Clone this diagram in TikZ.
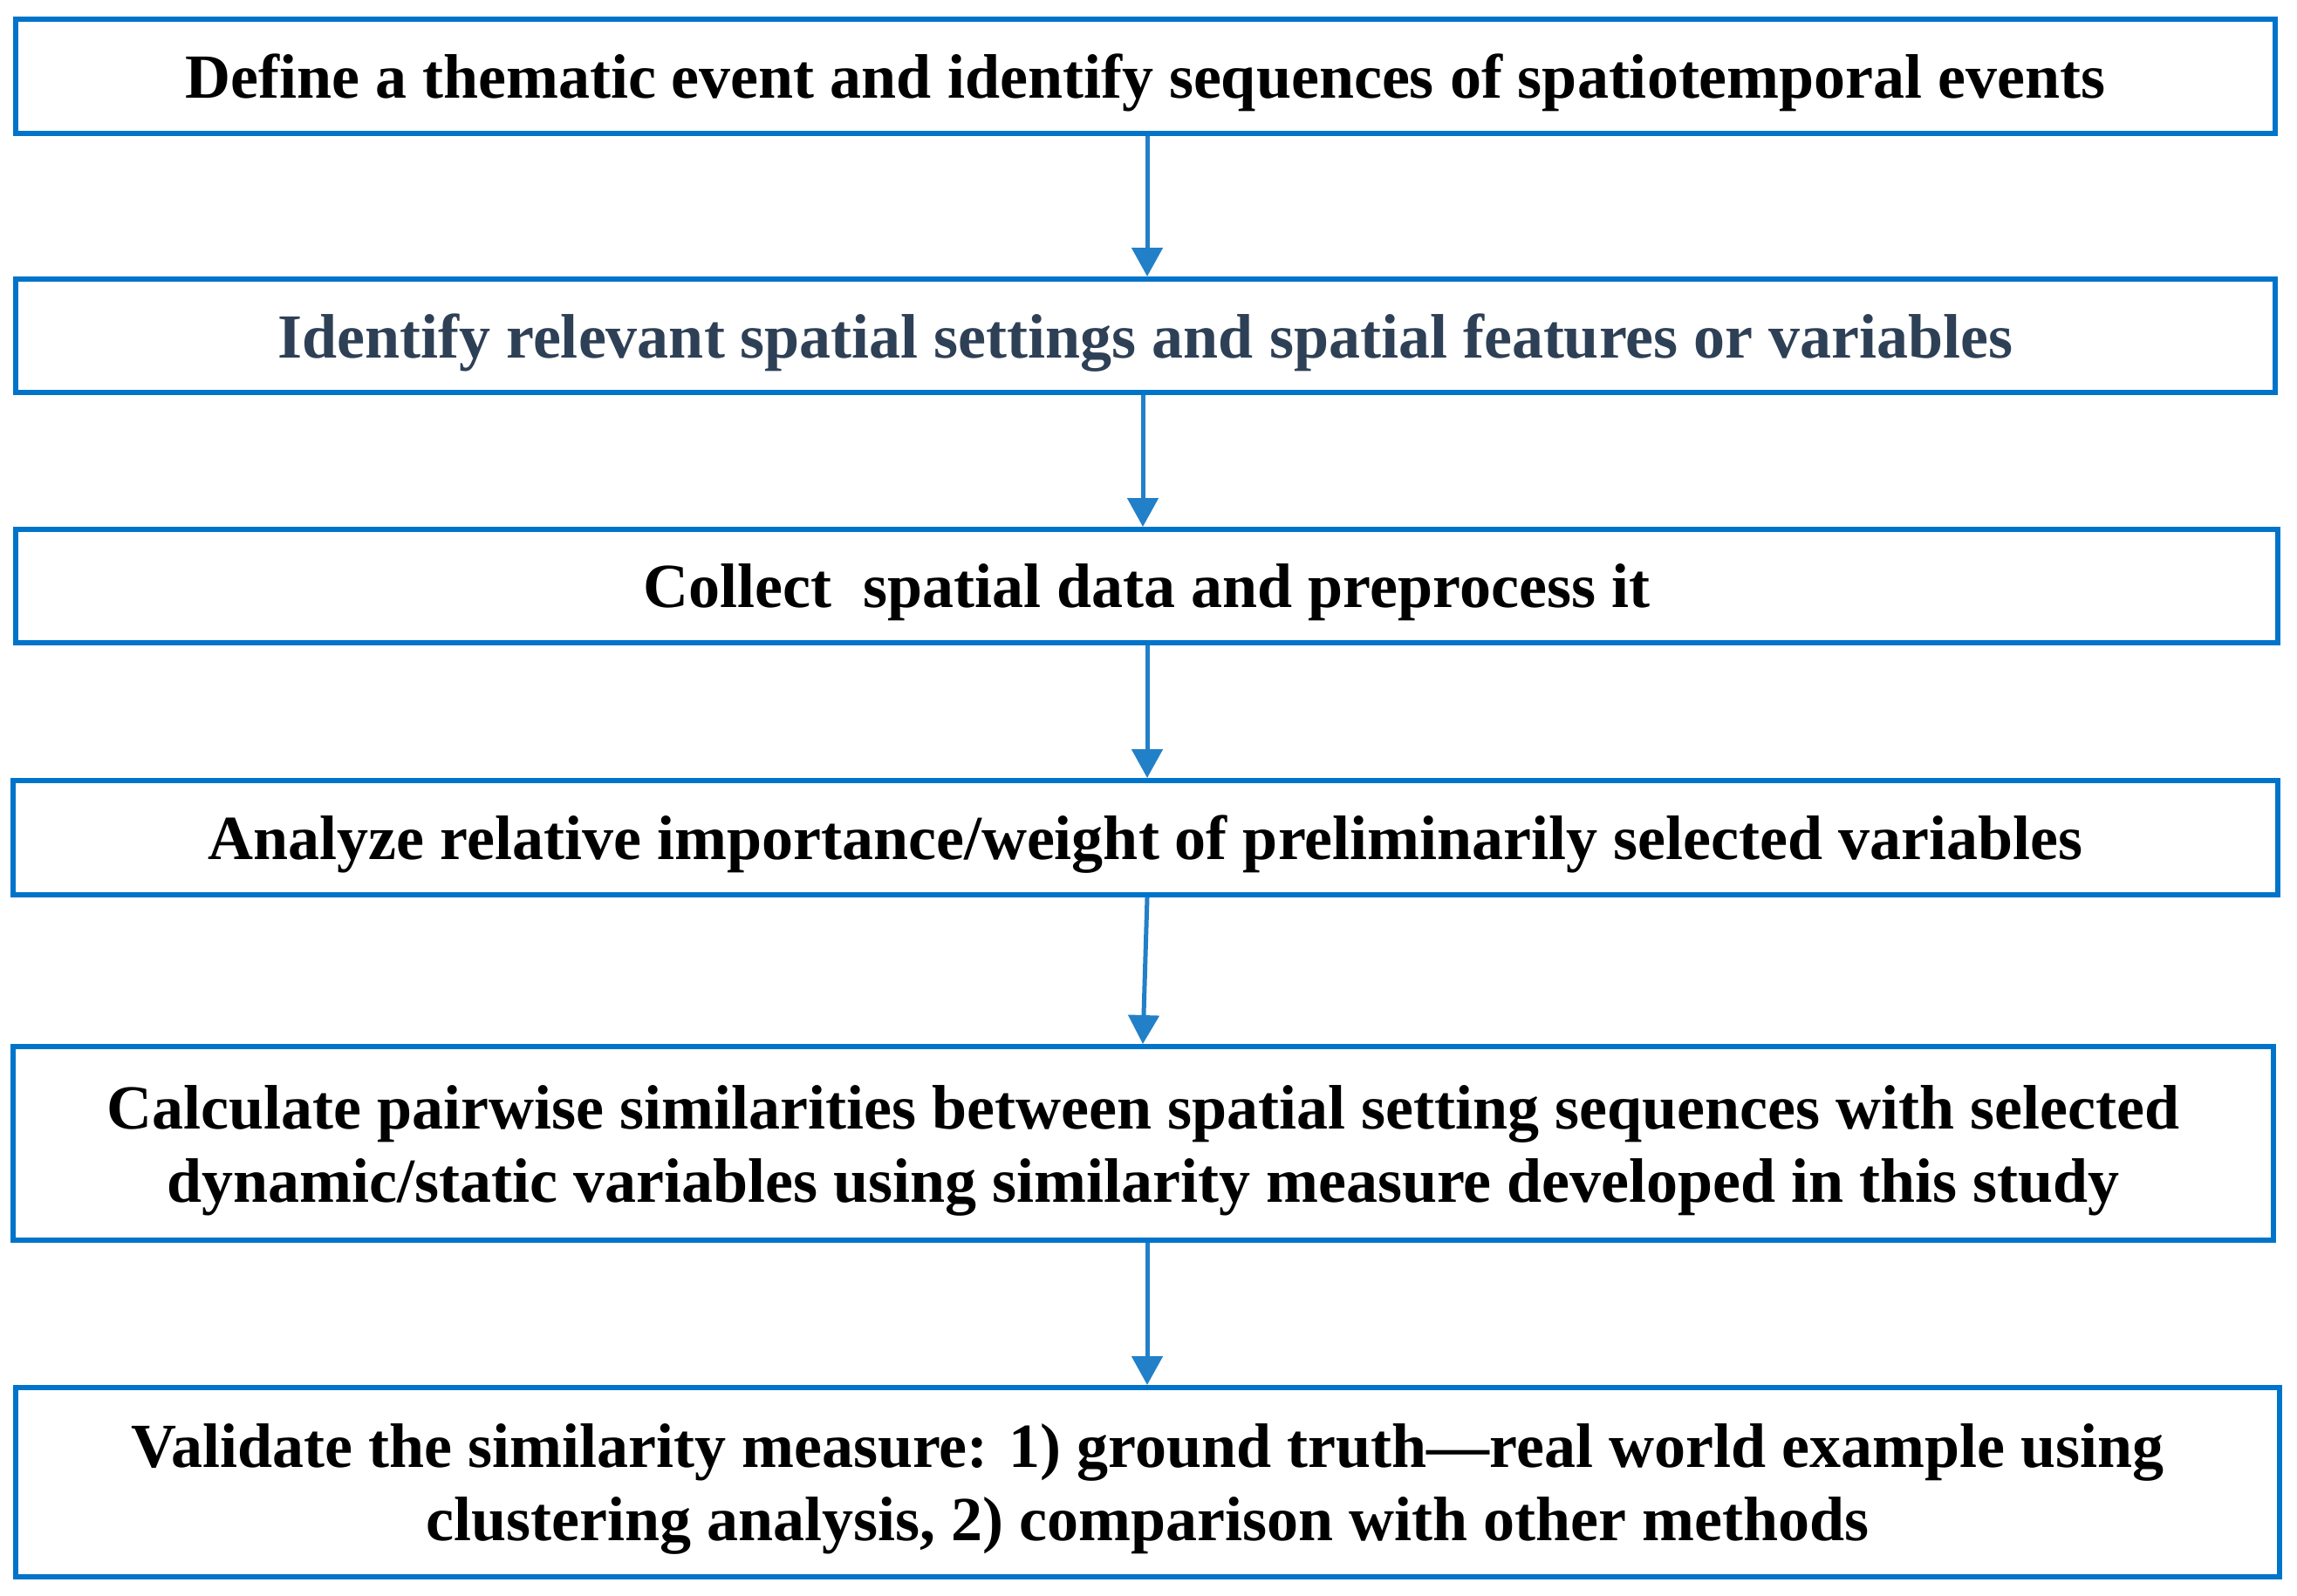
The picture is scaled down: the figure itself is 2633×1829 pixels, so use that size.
\documentclass[tikz,border=0pt]{standalone}
\usepackage{fontspec}
\setmainfont{Liberation Serif}
\usetikzlibrary{arrows.meta}
\definecolor{boxblue}{RGB}{0,116,202}
\definecolor{arrblue}{RGB}{34,128,200}
\definecolor{slatetext}{RGB}{46,64,86}
\begin{document}
\begin{tikzpicture}[x=1pt,y=-1pt,
  stepbox/.style={draw=boxblue,line width=6pt,rectangle,inner sep=0pt,align=center,
    text depth=0pt,font=\fontsize{72}{84}\selectfont\bfseries},
  arr/.style={draw=arrblue,line width=5pt,-{Triangle[width=35pt,length=33pt]}}]
\useasboundingbox (0,0) rectangle (2633,1829);
\node[stepbox,minimum width=2590pt,minimum height=131pt] (b1) at (1313,87.5)
  {Define a thematic event and identify sequences of spatiotemporal events};
\node[stepbox,minimum width=2590pt,minimum height=130pt,text=slatetext] (b2) at (1313,385)
  {Identify relevant spatial settings and spatial features or variables};
\node[stepbox,minimum width=2593pt,minimum height=130pt] (b3) at (1314.5,672)
  {Collect\ \ spatial data and preprocess it};
\node[stepbox,minimum width=2596pt,minimum height=131pt] (b4) at (1313,960.5)
  {Analyze relative importance/weight of preliminarily selected variables};
\node[stepbox,minimum width=2591pt,minimum height=222pt] (b5) at (1310.5,1311)
  {Calculate pairwise similarities between spatial setting sequences with selected\\
   dynamic/static variables using similarity measure developed in this study};
\node[stepbox,minimum width=2595pt,minimum height=217pt] (b6) at (1315.5,1699.5)
  {Validate the similarity measure: 1) ground truth---real world example using\\
   clustering analysis, 2) comparison with other methods};
\draw[arr] ([xshift=2pt]b1.south) -- ([xshift=2pt]b2.north);
\draw[arr] ([xshift=-3pt]b2.south) -- ([xshift=-4.5pt]b3.north);
\draw[arr] ([xshift=0.5pt]b3.south) -- ([xshift=2pt]b4.north);
\draw[arr] ([xshift=2pt]b4.south) -- ([xshift=-0.5pt]b5.north);
\draw[arr] ([xshift=4.5pt]b5.south) -- ([xshift=-0.5pt]b6.north);
\end{tikzpicture}
\end{document}
